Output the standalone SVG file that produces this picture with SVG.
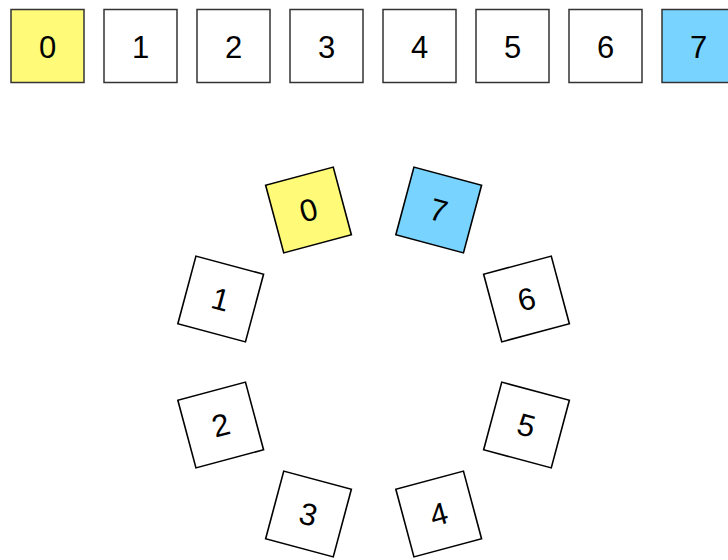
<svg xmlns="http://www.w3.org/2000/svg" width="728" height="560" viewBox="0 0 728 560">
<style>
.b{fill:#fff;stroke:#333;stroke-width:1.5}
.r{fill:#fff;stroke:#000;stroke-width:1.6}
.y{fill:#fffa78}
.c{fill:#78d4ff}
text{font-family:"Liberation Sans",Arial,sans-serif;font-size:31px;text-anchor:middle;fill:#000}
</style>
<rect width="728" height="560" fill="#fff"/>
<g id="row">
<g id="t0"><rect class="b y" x="11" y="9.5" width="73" height="73"/><text x="47.5" y="58">0</text></g>
<g id="t1"><rect class="b" x="104" y="9.5" width="73" height="73"/><text x="140.5" y="58">1</text></g>
<g id="t2"><rect class="b" x="197" y="9.5" width="73" height="73"/><text x="233.5" y="58">2</text></g>
<g id="t3"><rect class="b" x="290" y="9.5" width="73" height="73"/><text x="326.5" y="58">3</text></g>
<g id="t4"><rect class="b" x="383" y="9.5" width="73" height="73"/><text x="419.5" y="58">4</text></g>
<g id="t5"><rect class="b" x="476" y="9.5" width="73" height="73"/><text x="512.5" y="58">5</text></g>
<g id="t6"><rect class="b" x="569" y="9.5" width="73" height="73"/><text x="605.5" y="58">6</text></g>
<g id="t7"><rect class="b c" x="662" y="9.5" width="73" height="73"/><text x="698.5" y="58">7</text></g>
</g>
<g id="ring">
<g id="c0" transform="translate(308.5,210) rotate(-15)"><rect class="r y" x="-35" y="-35" width="70" height="70"/><text y="11">0</text></g>
<g id="c7" transform="translate(438.7,210) rotate(15)"><rect class="r c" x="-35" y="-35" width="70" height="70"/><text y="11">7</text></g>
<g id="c1" transform="translate(220.7,299) rotate(15)"><rect class="r" x="-35" y="-35" width="70" height="70"/><text y="11">1</text></g>
<g id="c6" transform="translate(526.5,299) rotate(-15)"><rect class="r" x="-35" y="-35" width="70" height="70"/><text y="11">6</text></g>
<g id="c2" transform="translate(220.7,425) rotate(-15)"><rect class="r" x="-35" y="-35" width="70" height="70"/><text y="11">2</text></g>
<g id="c5" transform="translate(526.5,425) rotate(15)"><rect class="r" x="-35" y="-35" width="70" height="70"/><text y="11">5</text></g>
<g id="c3" transform="translate(308.5,514) rotate(15)"><rect class="r" x="-35" y="-35" width="70" height="70"/><text y="11">3</text></g>
<g id="c4" transform="translate(438.7,514) rotate(-15)"><rect class="r" x="-35" y="-35" width="70" height="70"/><text y="11">4</text></g>
</g>
<g id="connectors"/>
</svg>
